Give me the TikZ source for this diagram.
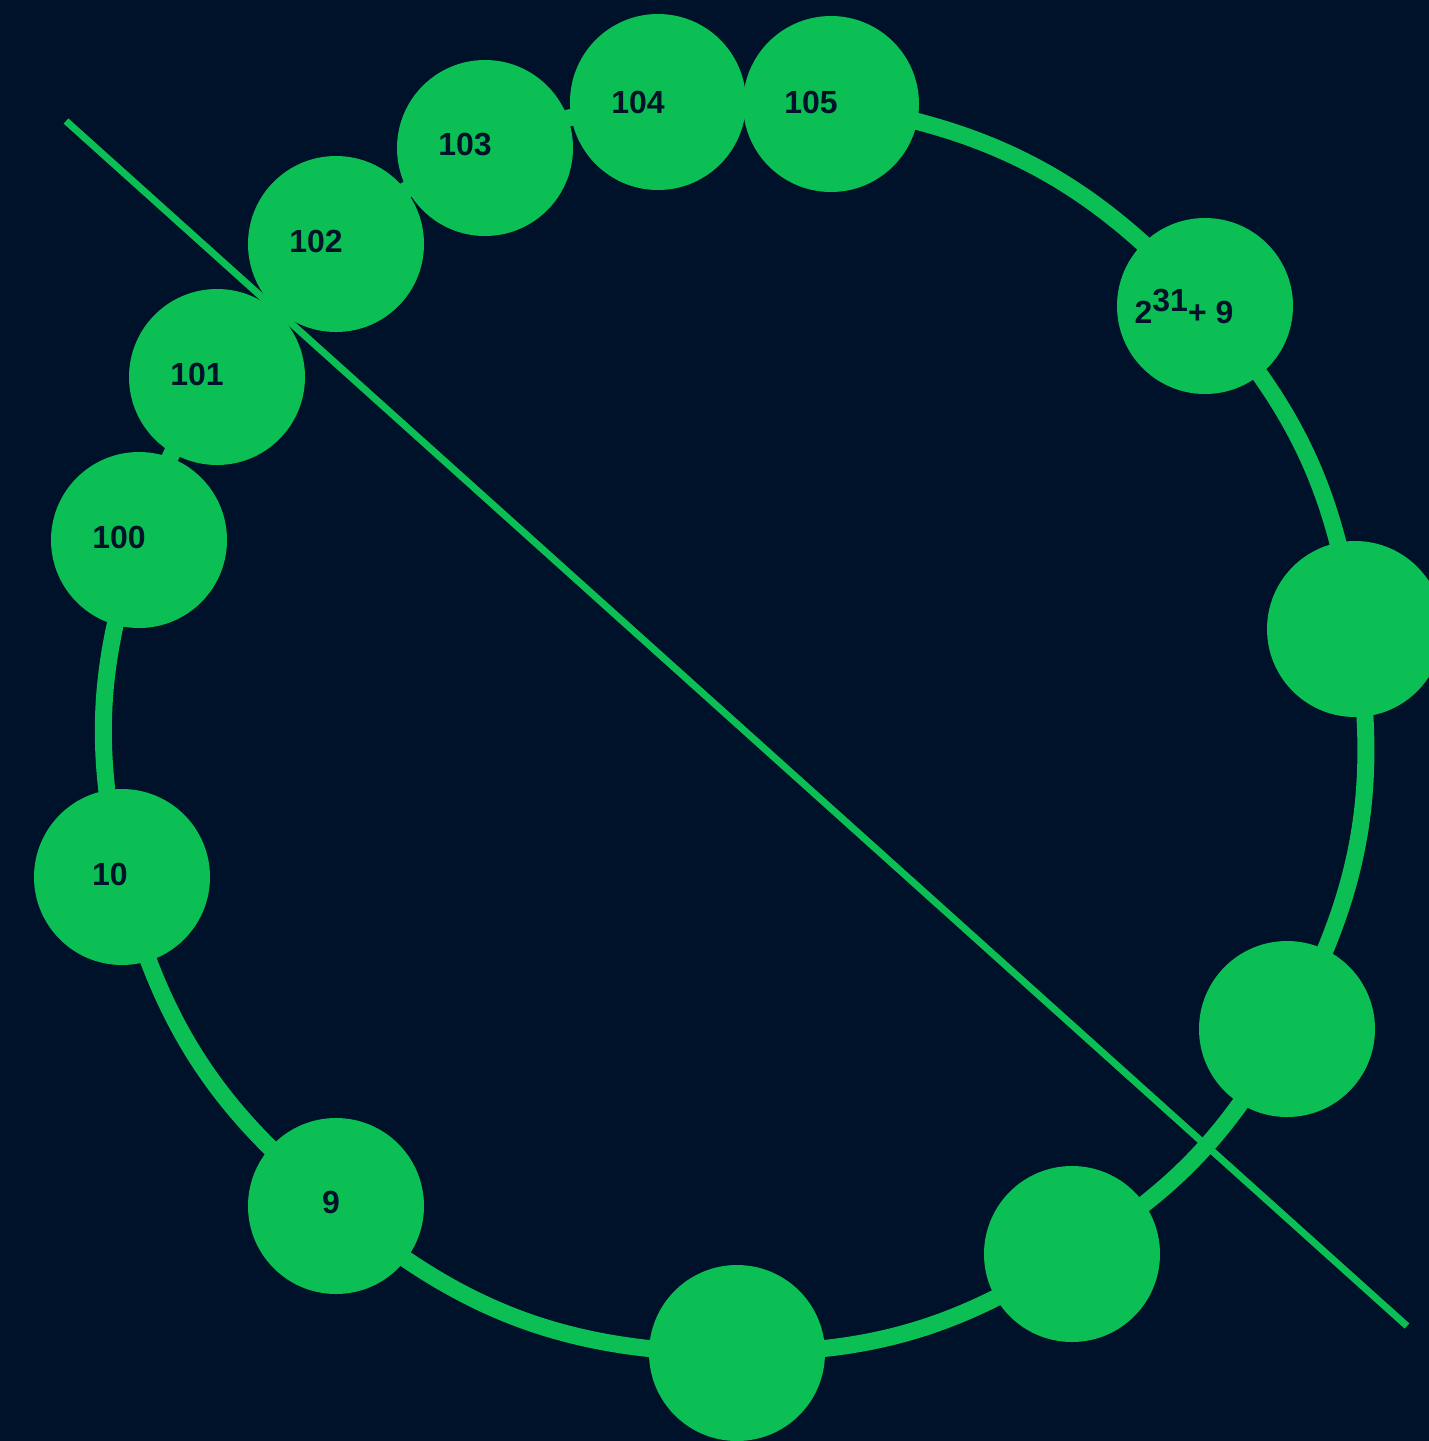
\documentclass[tikz,border=0pt]{standalone}
\usepackage{fontspec}
\setmainfont{Liberation Sans}
\usetikzlibrary{backgrounds}
\definecolor{bgnavy}{HTML}{001229}
\definecolor{ringgreen}{HTML}{0BBF55}
\tikzset{
  dot/.style={circle, fill=ringgreen, draw=none, minimum size=88pt, inner sep=0pt},
  lbl/.style={text=bgnavy, font=\bfseries\fontsize{16pt}{18pt}\selectfont, inner sep=0pt, anchor=center},
  ring/.style={draw=ringgreen, line width=8.5pt},
  cut/.style={draw=ringgreen, line width=3.5pt, line cap=butt}
}
\begin{document}
\begin{tikzpicture}[x=0.5pt, y=0.5pt]
  \useasboundingbox (0,0) rectangle (1429,-1441);

  % ring members
  \node[dot] (n104) at (658,-102) {};
  \node[dot] (n105) at (831,-104) {};
  \node[dot] (nbig) at (1205,-306) {};
  \node[dot] (nr1)  at (1355,-629) {};
  \node[dot] (nr2)  at (1287,-1029) {};
  \node[dot] (nr3)  at (1072,-1254) {};
  \node[dot] (nbot) at (737,-1353) {};
  \node[dot] (n9)   at (336,-1206) {};
  \node[dot] (n10)  at (122,-877) {};
  \node[dot] (n100) at (139,-540) {};
  \node[dot] (n101) at (217,-377) {};
  \node[dot] (n102) at (336,-244) {};
  \node[dot] (n103) at (485,-148) {};

  % canvas, connectors along the ring and the cutting line, behind the nodes
  \begin{scope}[on background layer]
    \fill[bgnavy] (0,0) rectangle (1429,-1441);
    \coordinate (cutA) at (66,-121);
    \coordinate (cutB) at (1407,-1326);
    \draw[cut] (cutA) -- (cutB);
    \draw[ring] (n104.center) to[bend left=7.9]  (n105.center);
    \draw[ring] (n105.center) to[bend left=19.7] (nbig.center);
    \draw[ring] (nbig.center) to[bend left=16.5] (nr1.center);
    \draw[ring] (nr1.center)  to[bend left=18.9] (nr2.center);
    \draw[ring] (nr2.center)  to[bend left=14.4] (nr3.center);
    \draw[ring] (nr3.center)  to[bend left=16.3] (nbot.center);
    \draw[ring] (nbot.center) to[bend left=20]   (n9.center);
    \draw[ring] (n9.center)   to[bend left=18.2] (n10.center);
    \draw[ring] (n10.center)  to[bend left=15.6] (n100.center);
    \draw[ring] (n100.center) to[bend left=8.3]  (n101.center);
    \draw[ring] (n101.center) to[bend left=8.2]  (n102.center);
    \draw[ring] (n102.center) to[bend left=8.1]  (n103.center);
    \draw[ring] (n103.center) to[bend left=8.2]  (n104.center);
  \end{scope}

  % labels
  \node[lbl] (t104) at ([shift={(-20,0)}]n104.center) {104};
  \node[lbl] (t105) at ([shift={(-20,2)}]n105.center) {105};
  \node[lbl] (tbig) at ([shift={(-21,0)}]nbig.center) {2\raisebox{6pt}{31}+ 9};
  \node[lbl] (t9)   at ([shift={(-5,3.5)}]n9.center) {9};
  \node[lbl] (t10)  at ([shift={(-12,3)}]n10.center) {10};
  \node[lbl] (t100) at ([shift={(-20,2.5)}]n100.center) {100};
  \node[lbl] (t101) at ([shift={(-20,2.5)}]n101.center) {101};
  \node[lbl] (t102) at ([shift={(-20,3)}]n102.center) {102};
  \node[lbl] (t103) at ([shift={(-20,3)}]n103.center) {103};
\end{tikzpicture}
\end{document}
